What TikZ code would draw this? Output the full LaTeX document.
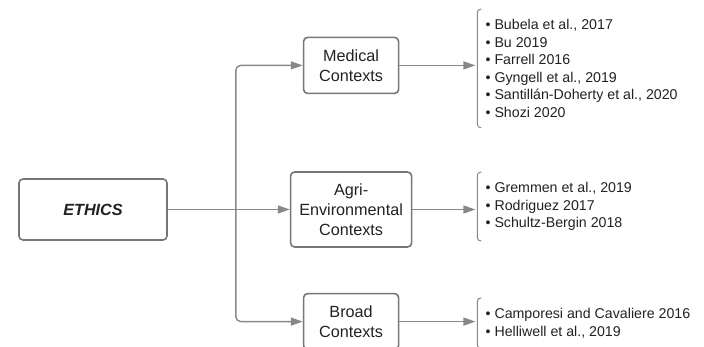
\documentclass[tikz,border=0pt]{standalone}
\usepackage{fontspec}
\setmainfont{Liberation Sans}
\usetikzlibrary{positioning,arrows.meta}
\definecolor{EdgeGray}{HTML}{767676}
\definecolor{LineGray}{HTML}{888888}
\definecolor{InkGray}{HTML}{222222}

\begin{document}
\begin{tikzpicture}[x=1pt, y=-1pt,
  every node/.style={text=InkGray},
  ctxbox/.style={draw=EdgeGray, line width=1.6pt, rounded corners=4pt, fill=white, align=center, font=\fontsize{16.2}{20}\selectfont},
  reflist/.style={inner sep=0pt, align=left, anchor=west, font=\fontsize{14.2}{17.5}\selectfont},
  conn/.style={-{Triangle[length=12pt,width=8pt]}, line width=1.4pt, LineGray},
  brk/.style={LineGray, line width=1pt, rounded corners=3pt}]
  \useasboundingbox (0,0) rectangle (704,347);
  \node[ctxbox, minimum width=148pt, minimum height=61pt, font=\fontsize{16.2}{20}\selectfont\bfseries\itshape] (ethics) at (93,209.5) {ETHICS};
  \node[ctxbox, minimum width=121pt, minimum height=75pt, right=122pt of ethics] (agri) {Agri-\\Environmental\\Contexts};
  \node[ctxbox, minimum width=95pt, minimum height=56pt, above=77pt of agri] (med) {Medical\\Contexts};
  \node[ctxbox, minimum width=95pt, minimum height=56pt, below=45pt of agri] (broad) {Broad\\Contexts};
  \coordinate[right=68pt of ethics] (jn);
  % reference lists
  \node[reflist, right=86pt of med, yshift=-3pt] (medlist) {\textbullet\ Bubela et al., 2017\\\textbullet\ Bu 2019\\\textbullet\ Farrell 2016\\\textbullet\ Gyngell et al., 2019\\\textbullet\ Santillán-Doherty et al., 2020\\\textbullet\ Shozi 2020};
  \node[reflist, yshift=3pt] (agrilist) at (medlist.west |- agri) {\textbullet\ Gremmen et al., 2019\\\textbullet\ Rodriguez 2017\\\textbullet\ Schultz-Bergin 2018};
  \node[reflist, yshift=-1.5pt] (brlist) at (medlist.west |- broad) {\textbullet\ Camporesi and Cavaliere 2016\\\textbullet\ Helliwell et al., 2019};
  \foreach \lst in {medlist,agrilist,brlist}
    \draw[brk] ([xshift=-4pt,yshift=10pt]\lst.north west) -- ([xshift=-8pt,yshift=10pt]\lst.north west)
      -- ([xshift=-8pt,yshift=-10pt]\lst.south west) -- ([xshift=-4pt,yshift=-10pt]\lst.south west);
  \coordinate (medtip) at ([xshift=-10pt]medlist.west);
  % connectors
  \draw[conn] (ethics) -- (agri);
  \draw[conn, rounded corners=5pt] (jn) |- (med);
  \draw[conn, rounded corners=5pt] (jn) |- (broad);
  \draw[conn] (med) -- (med -| medtip);
  \draw[conn] (agri) -- (agri -| medtip);
  \draw[conn] (broad) -- (broad -| medtip);
\end{tikzpicture}
\end{document}
